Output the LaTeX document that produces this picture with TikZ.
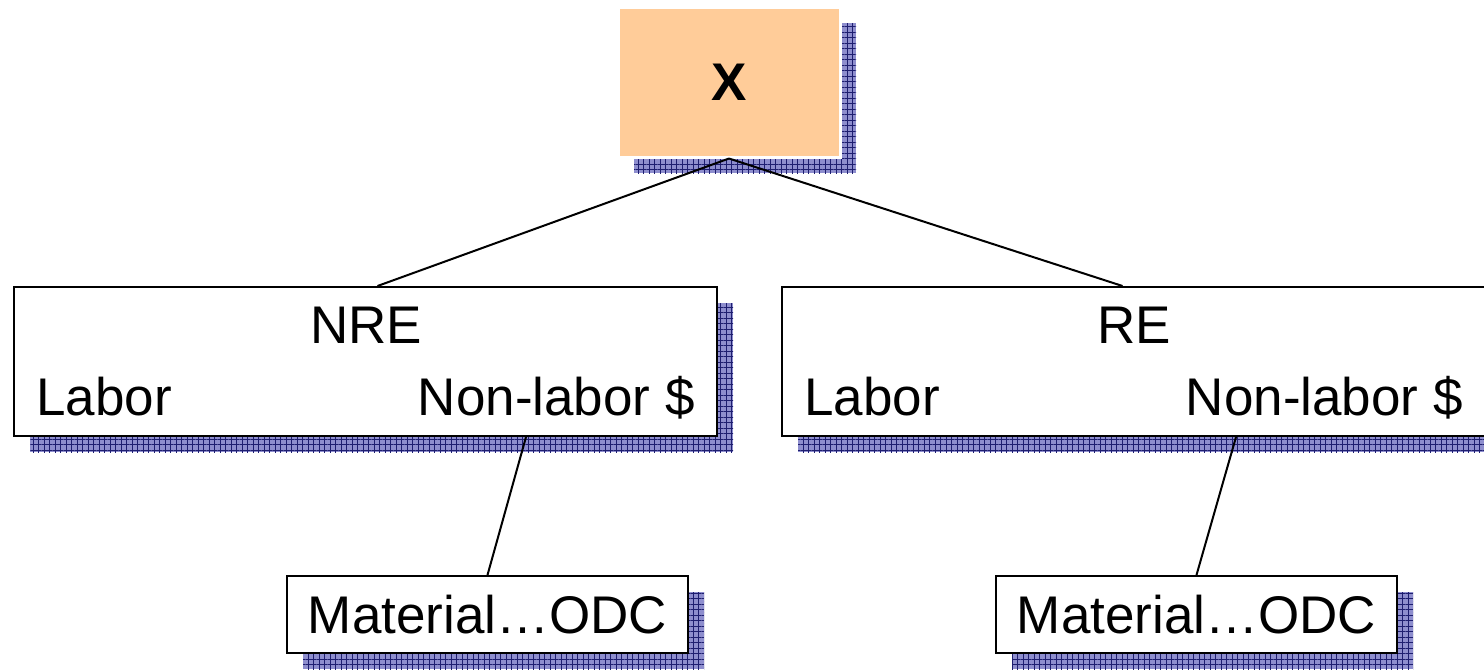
\documentclass[tikz,border=0pt]{standalone}
\usepackage{fontspec}
\setmainfont{Liberation Sans}
\usepackage{xcolor}
\usepackage{tikz}
\usetikzlibrary{positioning, shadows, patterns.meta}
\definecolor{peach}{RGB}{255,204,153}
\definecolor{shadowblue}{RGB}{142,142,206}
\definecolor{gridnavy}{RGB}{30,30,112}

\begin{document}
\begin{tikzpicture}[
  x=1pt, y=-1pt,
  every node/.style={
    inner sep=0pt,
    font=\fontsize{53}{63}\selectfont
  },
  gridshadow/.style={
    general shadow={shadow xshift=16pt, shadow yshift=-16pt, fill=shadowblue, draw=none},
    general shadow={shadow xshift=16pt, shadow yshift=-16pt, draw=none,
      pattern={Hatch[angle=0, distance=5.5pt, line width=0.5pt]}, pattern color=gridnavy}
  },
  topbox/.style={gridshadow, fill=peach, draw=white, line width=3pt,
    minimum width=222pt, minimum height=150pt, font=\fontsize{53}{63}\selectfont\bfseries},
  costbox/.style={gridshadow, fill=white, draw=black, line width=2pt,
    minimum width=703pt, minimum height=149pt},
  itembox/.style={gridshadow, fill=white, draw=black, line width=2pt,
    minimum width=401pt, minimum height=77pt},
  link/.style={draw, line width=2pt}
]
\useasboundingbox (0,0) rectangle (1484,670);
\clip (0,0) rectangle (1484,670);

% Root Node
\node[topbox] (x) at (729,82) {X};

% Cost boxes
\node[costbox] (nre) at (365.5,361.5) {};
\node[anchor=base] (nretitle) at (366,343) {NRE};
\node[anchor=base west] (nrelabor) at (36,415) {Labor};
\node[anchor=base east] (nrenonlabor) at (695,415) {Non-labor \$};

\node[costbox] (re) at (1133.5,361.5) {};
\node[anchor=base] (retitle) at (1134,343) {RE};
\node[anchor=base west] (relabor) at (804,415) {Labor};
\node[anchor=base east] (renonlabor) at (1463,415) {Non-labor \$};

% Material boxes
\node[itembox] (nrematl) at (487.5,614.5) {Material…ODC};
\node[itembox] (rematl) at (1196.5,614.5) {Material…ODC};

% Links
\draw[link] (x.south) -- ([xshift=12pt]nre.north);
\draw[link] (x.south) -- ([xshift=-11pt]re.north);
\draw[link] (nre.south west) ++(513,0) -- (nrematl.north);
\draw[link] (re.south west) ++(455,0) -- (rematl.north);

\end{tikzpicture}
\end{document}
